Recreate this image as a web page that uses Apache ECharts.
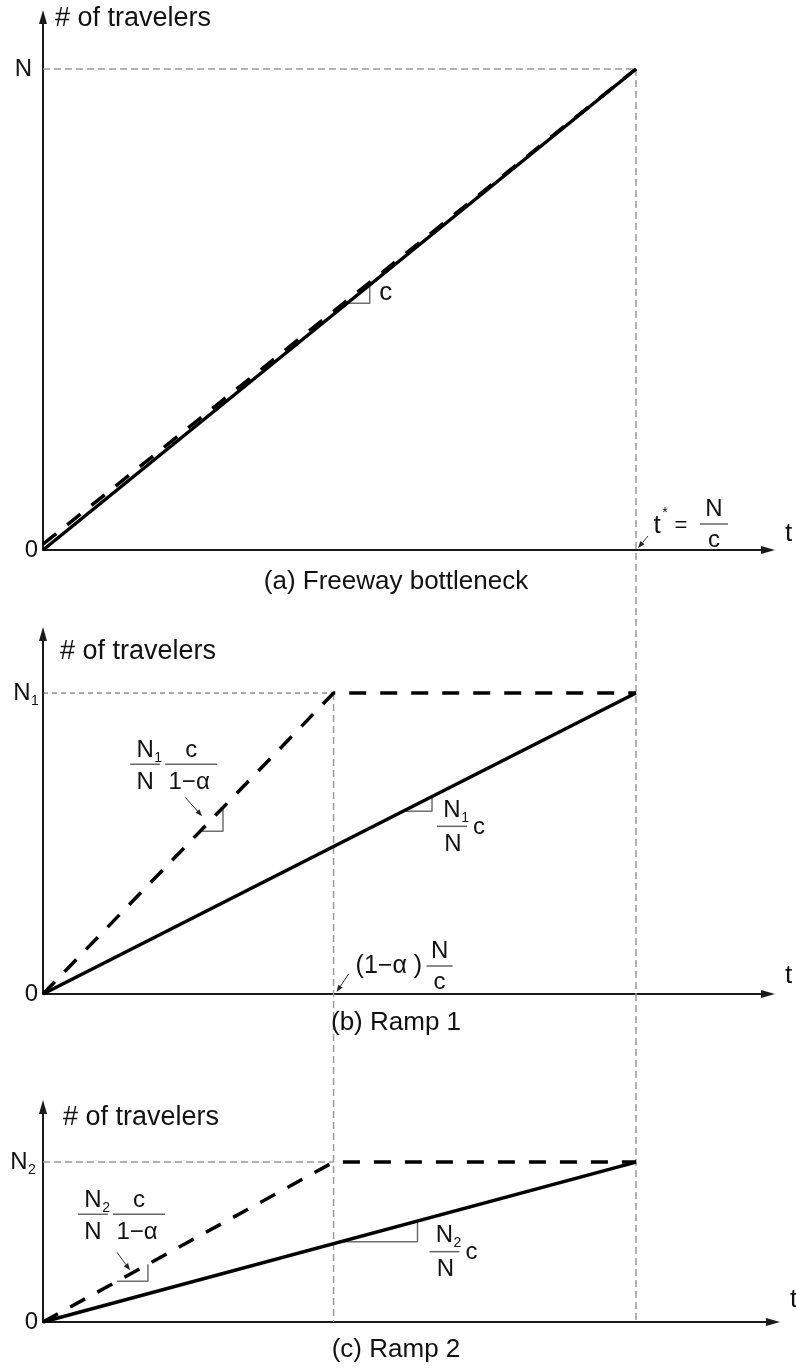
<!DOCTYPE html>
<html>
<head>
<meta charset="utf-8">
<script src="https://cdn.jsdelivr.net/npm/echarts@6/dist/echarts.min.js"></script>
<style>
  html, body { margin: 0; padding: 0; background: #fff; }
  #chart { width: 796px; height: 1369px; }
</style>
</head>
<body>
<div id="chart"></div>
<script>
// Cumulative arrivals (dashed) and departures (solid) at a freeway bottleneck
// and at its two feeding ramps. Time is in units of t* = N/c, counts in units of N.
const tStar = 1;             // t* = N / c
const N = 1;                 // all travelers
const N1 = 0.48;             // travelers entering from ramp 1
const N2 = 0.255;            // travelers entering from ramp 2
const oneMinusAlpha = 0.49;  // (1 − α) N / c, end of the arrival rush

const freewayArrivals   = [[0, 0.012], [1, 1]];
const freewayDepartures = [[0, 0], [1, 1]];
const ramp1Arrivals     = [[0, 0], [0.49, 0.48], [1, 0.48]];
const ramp1Departures   = [[0, 0], [1, 0.48]];
const ramp2Arrivals     = [[0, 0], [0.49, 0.255], [1, 0.255]];
const ramp2Departures   = [[0, 0], [1, 0.255]];

const panelCaptions = ['(a) Freeway bottleneck', '(b) Ramp 1', '(c) Ramp 2'];
const yAxisTitle = '# of travelers';
const xAxisTitle = 't';

// ---- layout -------------------------------------------------------------
const FONT = '"Liberation Sans", Arial, Helvetica, sans-serif';
const grids = [
  { left: 43, top: 17,   width: 725, height: 533 },
  { left: 43, top: 634,  width: 725, height: 360 },
  { left: 43, top: 1107, width: 730, height: 215 }
];
const xMax = [1.2226, 1.2226, 1.231];
const yMax = [1.1081, 0.5742, 0.3429];
// time spans of the little slope triangles drawn under each curve
const slopeMarks = {
  a:      [0.513, 0.551],
  bDash:  [0.265, 0.3035],
  bSolid: [0.607, 0.656],
  cDash:  [0.1248, 0.177],
  cSolid: [0.5025, 0.6315]
};

const AXIS_COLOR = '#1a1a1a';
const axisCommon = (g, max) => ({
  gridIndex: g, type: 'value', min: 0, max: max,
  axisLine: { show: true, onZero: true, symbol: ['none', 'triangle'], symbolSize: [8, 14],
              lineStyle: { color: AXIS_COLOR, width: 2 } },
  axisTick: { show: false }, axisLabel: { show: false }, splitLine: { show: false }
});

const chart = echarts.init(document.getElementById('chart'), null, { renderer: 'canvas' });
chart.setOption({
  animation: false,
  backgroundColor: '#ffffff',
  grid: grids.map(g => Object.assign({ containLabel: false }, g)),
  xAxis: [0, 1, 2].map(g => axisCommon(g, xMax[g])),
  yAxis: [0, 1, 2].map(g => axisCommon(g, yMax[g])),
  series: []
});

const toPx = (g, p) => chart.convertToPixel({ gridIndex: g }, p);
const fromPx = (g, p) => chart.convertFromPixel({ gridIndex: g }, p);

// value of a polyline at time t
function valueAt(pts, t) {
  for (let i = 1; i < pts.length; i++) {
    const [x0, y0] = pts[i - 1], [x1, y1] = pts[i];
    if (t <= x1) return y0 + (y1 - y0) * (t - x0) / (x1 - x0);
  }
  return pts[pts.length - 1][1];
}

const solidStyle = { color: '#000', width: 3.5, type: 'solid', cap: 'butt' };
const dashStyle  = { color: '#000', width: 3.5, type: [17, 14], cap: 'butt' };
const guideStyle = { color: '#9a9a9a', width: 1.5, type: [7, 4] };
const guideDark  = { color: '#555', width: 1, type: [5, 4] };
const triStyle   = { color: '#6e6e6e', width: 1.5, type: 'solid' };

function line(g, data, style, z, clip) {
  return { type: 'line', xAxisIndex: g, yAxisIndex: g, data: data, symbol: 'none', showSymbol: false,
           lineStyle: style, silent: true, z: z || 2, clip: clip !== false, animation: false };
}
function triangle(g, pts, span) {
  const [t1, t2] = span;
  const y1 = valueAt(pts, t1), y2 = valueAt(pts, t2);
  return line(g, [[t1, y1], [t2, y1], [t2, y2]], triStyle, 3);
}

// dashed guides that run down through the lower panels, split where they
// cross the axis of panel (b)
const tStarMidA = fromPx(0, toPx(1, [tStar, 0]))[1];
const tStarMidC = fromPx(2, toPx(1, [tStar, 0]))[1];
const alphaFoot = fromPx(1, toPx(2, [oneMinusAlpha, 0]))[1];

const series = [
  line(0, [[0, N], [tStar, N]], guideStyle, 1),
  line(0, [[tStar, N], [tStar, tStarMidA]], guideStyle, 1, false),
  line(2, [[tStar, tStarMidC], [tStar, 0]], guideStyle, 1, false),
  line(1, [[0, N1], [oneMinusAlpha, N1]], guideDark, 1),
  line(1, [[oneMinusAlpha, N1], [oneMinusAlpha, alphaFoot]], guideStyle, 1, false),
  line(2, [[0, N2], [oneMinusAlpha, N2]], guideStyle, 1),

  line(0, freewayDepartures, solidStyle, 4),
  line(0, freewayArrivals, dashStyle, 5),
  line(1, ramp1Departures, solidStyle, 4),
  line(1, ramp1Arrivals, dashStyle, 5),
  line(2, ramp2Departures, solidStyle, 4),
  line(2, ramp2Arrivals, dashStyle, 5),

  triangle(0, freewayDepartures, slopeMarks.a),
  triangle(1, ramp1Arrivals, slopeMarks.bDash),
  triangle(1, ramp1Departures, slopeMarks.bSolid),
  triangle(2, ramp2Arrivals, slopeMarks.cDash),
  triangle(2, ramp2Departures, slopeMarks.cSolid)
];

// ---- text and annotation helpers ------------------------------------------
function txt(x, y, s, size, align, va) {
  return { type: 'text', x: x, y: y, silent: true, z: 100,
           style: { text: s, fontSize: size, fontFamily: FONT, fill: '#111',
                    align: align || 'center', verticalAlign: va || 'middle' } };
}
function hbar(x1, x2, y) {
  return { type: 'line', silent: true, z: 100, shape: { x1: x1, y1: y, x2: x2, y2: y },
           style: { stroke: '#666', lineWidth: 1.5 } };
}
function leader(x1, y1, x2, y2) {
  const a = Math.atan2(y2 - y1, x2 - x1), L = 7, W = 2.6;
  const bx = x2 - L * Math.cos(a), by = y2 - L * Math.sin(a);
  return [
    { type: 'line', silent: true, z: 100, shape: { x1: x1, y1: y1, x2: bx, y2: by },
      style: { stroke: '#333', lineWidth: 1 } },
    { type: 'polygon', silent: true, z: 100,
      shape: { points: [[x2, y2], [bx + W * Math.sin(a), by - W * Math.cos(a)],
                        [bx - W * Math.sin(a), by + W * Math.cos(a)]] },
      style: { fill: '#222' } }
  ];
}
// symbol with a subscript, e.g. N₁
function subbed(cx, cy, main, sub, size) {
  return [txt(cx, cy, main, size), txt(cx + size * 0.38, cy + size * 0.32, sub, Math.round(size * 0.58), 'left')];
}

const G = [];
const S = 24;
// panel frames: titles, axis names, origin, captions
[0, 1, 2].forEach(g => {
  const o = toPx(g, [0, 0]);
  const top = grids[g].top - 7;
  const xEnd = grids[g].left + grids[g].width;
  G.push(txt(o[0] + [12, 17, 20][g], top + [9, 25, 18][g], yAxisTitle, 27, 'left'));
  G.push(txt(o[0] - 5, o[1], '0', S, 'right'));
  G.push(txt(xEnd + 17, o[1] - [16, 18, 22][g], xAxisTitle, 26, 'left'));
  G.push(txt(396, o[1] + [32, 29, 28][g], panelCaptions[g], 26));
});

// level labels on the y axes
const pN = toPx(0, [0, N]);
G.push(txt(pN[0] - 11, pN[1], 'N', S, 'right'));
const pN1 = toPx(1, [0, N1]);
G.push(...subbed(pN1[0] - 21, pN1[1], 'N', '1', S));
const pN2 = toPx(2, [0, N2]);
G.push(...subbed(pN2[0] - 24, pN2[1], 'N', '2', S));

// t* = N / c
const P = toPx(0, [tStar, 0]);
G.push(txt(P[0] + 21, P[1] - 24, 't', 26));
G.push(txt(P[0] + 29, P[1] - 37, '*', 14));
G.push(txt(P[0] + 45, P[1] - 24, '=', 22));
G.push(txt(P[0] + 78, P[1] - 41, 'N', S));
G.push(hbar(P[0] + 64, P[0] + 92, P[1] - 26));
G.push(txt(P[0] + 78, P[1] - 10, 'c', S));
G.push(...leader(P[0] + 12, P[1] - 14, P[0] + 2, P[1] - 2));

// (1 − α) N / c
const Q = toPx(1, [oneMinusAlpha, 0]);
G.push(txt(Q[0] + 22, Q[1] - 28, '(1\u2212\u03b1 )', 25, 'left'));
G.push(txt(Q[0] + 106, Q[1] - 43, 'N', S));
G.push(hbar(Q[0] + 93, Q[0] + 119, Q[1] - 28));
G.push(txt(Q[0] + 106, Q[1] - 12, 'c', S));
G.push(...leader(Q[0] + 15, Q[1] - 20, Q[0] + 3, Q[1] - 2));

// slope c on the freeway curve
const ta = slopeMarks.a;
const A = toPx(0, [ta[1], valueAt(freewayDepartures, ta[0])]);
G.push(txt(A[0] + 16, A[1] - 10, 'c', 26));

// ramp slopes: (N_i / N) · c / (1 − α) on arrivals, (N_i / N) · c on departures
function rampArrivalSlope(g, pts, span, sub, dx, lead) {
  const p = toPx(g, [span[0], valueAt(pts, span[0])]);
  const bx = p[0] + dx, by = p[1] - 67;
  G.push(...subbed(bx + 15, by - 14, 'N', sub, S));
  G.push(hbar(bx, bx + 30, by));
  G.push(txt(bx + 15, by + 18, 'N', S));
  G.push(txt(bx + 61, by - 14, 'c', S));
  G.push(hbar(bx + 35, bx + 87, by));
  G.push(txt(bx + 59, by + 18, '1\u2212\u03b1', S));
  G.push(...leader(p[0] + lead[0], p[1] + lead[1], p[0] + lead[2], p[1] + lead[3]));
}
rampArrivalSlope(1, ramp1Arrivals, slopeMarks.bDash, '1', -70, [-15, -34, 2, -15]);
rampArrivalSlope(2, ramp2Arrivals, slopeMarks.cDash, '2', -39, [0, -29, 13, -11]);

function rampDepartureSlope(g, pts, span, sub, dx, dy) {
  const p = toPx(g, [span[1], valueAt(pts, span[0])]);
  const bx = p[0] + dx, by = p[1] + dy;
  G.push(...subbed(bx + 15, by - 16, 'N', sub, S));
  G.push(hbar(bx, bx + 30, by));
  G.push(txt(bx + 16, by + 18, 'N', S));
  G.push(txt(bx + 42, by + 1, 'c', S));
}
rampDepartureSlope(1, ramp1Departures, slopeMarks.bSolid, '1', 5, 15);
rampDepartureSlope(2, ramp2Departures, slopeMarks.cSolid, '2', 12, 10);

chart.setOption({ series: series, graphic: G });
</script>
</body>
</html>
